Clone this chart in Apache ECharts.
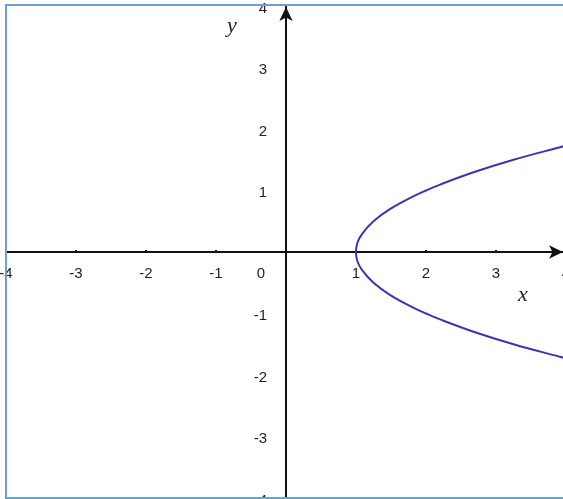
<!DOCTYPE html>
<html>
<head>
<meta charset="utf-8">
<script src="https://cdn.jsdelivr.net/npm/echarts@6/dist/echarts.min.js"></script>
<style>
  html, body { margin: 0; padding: 0; background: #fff; }
  #chart { width: 563px; height: 499px; }
</style>
</head>
<body>
<div id="chart"></div>
<script>
// axis ticks
var xTicks = [-4, -3, -2, -1, 0, 1, 2, 3, 4]
var yTicks = [-4, -3, -2, -1, 0, 1, 2, 3, 4]

// points (x, y)
var curveX = [4.4, 3.9, 3.25, 2.69, 2.21, 2.0, 1.81, 1.49, 1.25, 1.09, 1.02, 1.0, 1.02, 1.09, 1.25, 1.49, 1.81, 2.0, 2.21, 2.69, 3.25, 3.9, 4.4]
var curveY = [-1.85, -1.7, -1.5, -1.3, -1.1, -1.0, -0.9, -0.7, -0.5, -0.3, -0.15, 0, 0.15, 0.3, 0.5, 0.7, 0.9, 1.0, 1.1, 1.3, 1.5, 1.7, 1.85]

var points = curveX.map(function (x, i) { return [x, curveY[i]] })

var chart = echarts.init(document.getElementById('chart'))
var labelFont = { color: '#1e1e1e', fontSize: 15, fontFamily: 'Liberation Sans, Arial, sans-serif' }

var gridBox = { left: 6, right: -3, top: 6, bottom: 1 }

var option = {
  backgroundColor: '#ffffff',
  animation: false,
  grid: Object.assign({ outerBoundsMode: 'none', containLabel: false }, gridBox),
  xAxis: {
    type: 'value',
    position: 'bottom',
    min: -4, max: 4, interval: 1,
    splitLine: { show: false },
    axisLine: {
      onZero: false,
      lineStyle: { color: '#111', width: 2 },
      symbol: ['none', 'arrow'],
      symbolSize: [10, 14],
      symbolOffset: [0, -3]
    },
    axisTick: { show: true, inside: true, length: 2, lineStyle: { color: '#111', width: 2 } },
    axisLabel: Object.assign({}, labelFont, {
      margin: 14,
      showMinLabel: true,
      showMaxLabel: true,
      hideOverlap: false,
      formatter: function (v) {
        if (v === 0) return '{z|0}'
        return xTicks.indexOf(v) >= 0 ? String(v) : ''
      },
      rich: { z: Object.assign({}, labelFont, { padding: [0, 50, 0, 0] }) }
    })
  },
  yAxis: {
    type: 'value',
    position: 'left',
    min: -4, max: 4, interval: 1,
    splitLine: { show: false },
    axisLine: {
      onZero: false,
      lineStyle: { color: '#111', width: 2 },
      symbol: ['none', 'arrow'],
      symbolSize: [10, 14],
      symbolOffset: [0, -1]
    },
    axisTick: { show: false },
    axisLabel: Object.assign({}, labelFont, {
      margin: 19,
      showMinLabel: true,
      showMaxLabel: true,
      hideOverlap: false,
      formatter: function (v) {
        if (v === 0) return ''
        return yTicks.indexOf(v) >= 0 ? '{a|' + v + '}' : ''
      },
      rich: { a: Object.assign({}, labelFont, { padding: [5, 0, 0, 0] }) }
    })
  },
  series: [{
    type: 'line',
    data: points,
    smooth: 0.4,
    showSymbol: false,
    lineStyle: { color: '#3a35b0', width: 2 },
    z: 1
  }],
  graphic: [
    { type: 'text', left: 518, top: 284, style: { text: 'x', font: 'italic 22px "Liberation Serif", "DejaVu Serif", serif', fill: '#222' } },
    { type: 'text', left: 227, top: 15, style: { text: 'y', font: 'italic 22px "Liberation Serif", "DejaVu Serif", serif', fill: '#222' } },
    { type: 'polyline', z: 100, shape: { points: [[570, 5], [6, 5], [6, 498], [570, 498]] }, style: { stroke: '#6c9fd6', lineWidth: 2, fill: null } }
  ]
}

chart.setOption(option)

// move both axes so they cross at the origin, labels included
var origin = chart.convertToPixel({ gridIndex: 0 }, [0, 0])
var rect = chart.getModel().getComponent('grid', 0).coordinateSystem.getRect()
chart.setOption({
  xAxis: { offset: origin[1] - (rect.y + rect.height) },
  yAxis: { offset: rect.x - origin[0] }
})
</script>
</body>
</html>
